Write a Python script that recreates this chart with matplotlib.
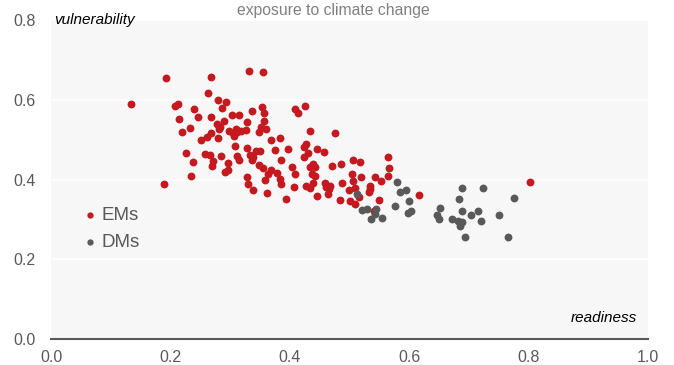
import matplotlib
matplotlib.use('Agg')
import matplotlib.pyplot as plt

plt.rcParams['font.family'] = ['Liberation Sans', 'DejaVu Sans']

# readiness (x) and vulnerability (y) scores
em_x = [0.134, 0.192, 0.268, 0.332, 0.355, 0.263, 0.208, 0.213, 0.239, 0.279,
        0.293, 0.287, 0.353, 0.356, 0.336, 0.408, 0.414, 0.425, 0.214, 0.247,
        0.268, 0.304, 0.315, 0.289, 0.278, 0.283, 0.281, 0.329, 0.357, 0.220,
        0.232, 0.268, 0.261, 0.251, 0.280, 0.298, 0.305, 0.310, 0.311, 0.319,
        0.327, 0.306, 0.348, 0.352, 0.360, 0.369, 0.384, 0.434, 0.226, 0.237,
        0.235, 0.190, 0.258, 0.267, 0.271, 0.270, 0.285, 0.297, 0.296, 0.291,
        0.309, 0.311, 0.315, 0.329, 0.334, 0.336, 0.339, 0.344, 0.350, 0.348,
        0.355, 0.376, 0.386, 0.397, 0.329, 0.330, 0.339, 0.362, 0.358, 0.363,
        0.369, 0.378, 0.383, 0.386, 0.393, 0.403, 0.407, 0.409, 0.475, 0.427,
        0.423, 0.430, 0.423, 0.445, 0.457, 0.433, 0.439, 0.443, 0.437, 0.443,
        0.471, 0.485, 0.506, 0.518, 0.565, 0.567, 0.565, 0.504, 0.520, 0.506,
        0.542, 0.553, 0.427, 0.433, 0.439, 0.459, 0.460, 0.466, 0.468, 0.464,
        0.445, 0.487, 0.499, 0.509, 0.501, 0.509, 0.516, 0.484, 0.534, 0.535,
        0.532, 0.550, 0.617, 0.541, 0.802]
em_y = [0.589, 0.654, 0.657, 0.672, 0.670, 0.616, 0.585, 0.589, 0.577, 0.600,
        0.595, 0.579, 0.583, 0.568, 0.572, 0.578, 0.568, 0.585, 0.553, 0.556,
        0.558, 0.562, 0.562, 0.547, 0.539, 0.531, 0.526, 0.544, 0.547, 0.520,
        0.529, 0.516, 0.506, 0.499, 0.504, 0.523, 0.516, 0.528, 0.520, 0.523,
        0.525, 0.510, 0.520, 0.531, 0.527, 0.499, 0.504, 0.523, 0.466, 0.443,
        0.408, 0.388, 0.463, 0.461, 0.446, 0.433, 0.458, 0.441, 0.425, 0.419,
        0.483, 0.458, 0.448, 0.478, 0.462, 0.448, 0.456, 0.471, 0.471, 0.437,
        0.429, 0.474, 0.450, 0.477, 0.406, 0.388, 0.375, 0.367, 0.398, 0.414,
        0.423, 0.416, 0.402, 0.389, 0.350, 0.431, 0.381, 0.414, 0.518, 0.488,
        0.481, 0.467, 0.456, 0.476, 0.468, 0.431, 0.438, 0.431, 0.414, 0.410,
        0.435, 0.438, 0.450, 0.445, 0.456, 0.429, 0.408, 0.414, 0.406, 0.396,
        0.406, 0.396, 0.383, 0.379, 0.391, 0.391, 0.381, 0.377, 0.383, 0.364,
        0.359, 0.391, 0.373, 0.379, 0.345, 0.339, 0.356, 0.349, 0.385, 0.377,
        0.368, 0.349, 0.362, 0.320, 0.393]

dm_x = [0.580, 0.584, 0.594, 0.600, 0.577, 0.598, 0.603, 0.513, 0.521, 0.530,
        0.544, 0.542, 0.536, 0.555, 0.652, 0.646, 0.650, 0.671, 0.688, 0.723,
        0.683, 0.689, 0.703, 0.716, 0.682, 0.688, 0.685, 0.721, 0.750, 0.775,
        0.693, 0.765]
dm_y = [0.393, 0.370, 0.375, 0.347, 0.333, 0.317, 0.321, 0.364, 0.323, 0.327,
        0.327, 0.314, 0.300, 0.303, 0.328, 0.310, 0.301, 0.301, 0.378, 0.380,
        0.352, 0.321, 0.311, 0.321, 0.296, 0.293, 0.284, 0.295, 0.310, 0.354,
        0.256, 0.256]

red = '#C3191F'
grey = '#595959'

fig = plt.figure(figsize=(6.74, 3.65), dpi=100)
ax = fig.add_axes([0.0757, 0.0712, 0.8857, 0.8738])
ax.set_facecolor('#F7F7F7')

ax.scatter(em_x, em_y, s=32, color=red, linewidths=0, label='EMs', zorder=3)
ax.scatter(dm_x, dm_y, s=32, color=grey, linewidths=0, label='DMs', zorder=4)

ax.set_xlim(0, 1)
ax.set_ylim(0, 0.8)
ax.set_xticks([0, 0.2, 0.4, 0.6, 0.8, 1.0])
ax.set_yticks([0, 0.2, 0.4, 0.6, 0.8])
ax.xaxis.set_major_formatter(plt.FormatStrFormatter('%.1f'))
ax.yaxis.set_major_formatter(plt.FormatStrFormatter('%.1f'))
ax.tick_params(length=0, labelsize=11.5, labelcolor=grey, pad=8)
ax.tick_params(axis='y', pad=11)
ax.grid(axis='y', color='white', lw=1.2, zorder=1)
ax.set_axisbelow(True)

for s in ['top', 'right', 'left']:
    ax.spines[s].set_visible(False)
ax.spines['bottom'].set_color(grey)
ax.spines['bottom'].set_linewidth(1.5)

ax.text(0.006, 1.0, 'vulnerability', transform=ax.transAxes, fontsize=11,
        style='italic', va='center', ha='left')
ax.text(0.982, 0.065, 'readiness', transform=ax.transAxes, fontsize=11,
        style='italic', va='center', ha='right')
fig.text(0.494, 0.972, 'exposure to climate change', fontsize=11.3,
         color='#808080', ha='center', va='center')

ax.legend(loc='center left', bbox_to_anchor=(0.04, 0.345), frameon=False,
          fontsize=13.5, labelcolor=grey, handlelength=0.6, handletextpad=0.3,
          borderpad=0, labelspacing=0.5, markerscale=0.8)

fig.savefig('out.png', dpi=100)
